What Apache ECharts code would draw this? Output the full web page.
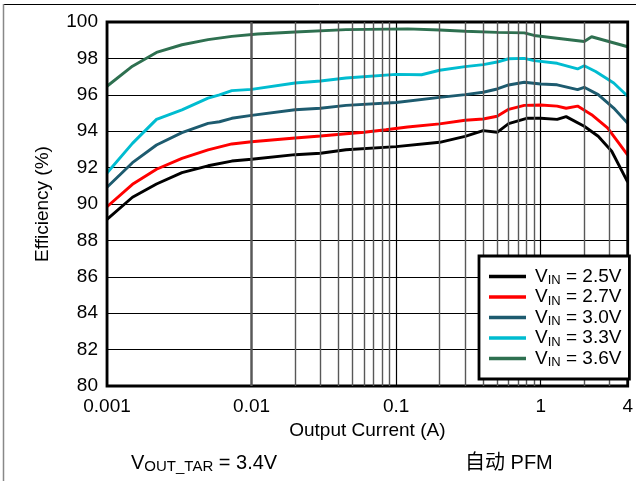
<!DOCTYPE html>
<html>
<head>
<meta charset="utf-8">
<script src="https://cdn.jsdelivr.net/npm/echarts@6/dist/echarts.min.js"></script>
<style>
  html, body { margin: 0; padding: 0; background: #fff; }
  #chart { width: 636px; height: 481px; }
</style>
</head>
<body>
<div id="chart"></div>
<script>
const FONT = "'Liberation Sans', Arial, 'Noto Sans CJK SC', sans-serif";

// Input voltages (V) shown in the legend
const inputVoltages = ['2.5', '2.7', '3.0', '3.3', '3.6'];

// Output current (A) / efficiency (%) per input voltage
const current25 = [0.001, 0.0015, 0.0022, 0.0033, 0.005, 0.0073, 0.01, 0.02, 0.03, 0.045, 0.1, 0.2, 0.3, 0.4, 0.5, 0.6, 0.8, 1.0, 1.3, 1.5, 2.0, 2.5, 3.1, 4];
const eff25 = [89.16, 90.37, 91.10, 91.72, 92.10, 92.36, 92.46, 92.71, 92.79, 92.98, 93.15, 93.39, 93.72, 94.03, 93.94, 94.42, 94.71, 94.71, 94.65, 94.80, 94.27, 93.72, 92.90, 91.20];

const current27 = [0.001, 0.0015, 0.0022, 0.0033, 0.005, 0.0073, 0.01, 0.02, 0.03, 0.045, 0.06, 0.085, 0.12, 0.2, 0.3, 0.4, 0.5, 0.6, 0.77, 1.0, 1.3, 1.5, 1.8, 2.25, 2.9, 4];
const eff27 = [89.85, 91.08, 91.91, 92.51, 92.97, 93.30, 93.42, 93.63, 93.74, 93.86, 93.94, 94.08, 94.23, 94.40, 94.60, 94.67, 94.82, 95.20, 95.42, 95.44, 95.38, 95.26, 95.38, 94.91, 94.18, 92.68];

const current30 = [0.001, 0.0015, 0.0022, 0.0033, 0.005, 0.006, 0.0073, 0.01, 0.02, 0.03, 0.045, 0.1, 0.2, 0.3, 0.4, 0.5, 0.6, 0.77, 1.0, 1.3, 1.8, 2.0, 2.5, 3.2, 4];
const eff30 = [90.92, 92.27, 93.24, 93.92, 94.43, 94.52, 94.71, 94.87, 95.18, 95.26, 95.42, 95.58, 95.86, 96.01, 96.14, 96.32, 96.54, 96.69, 96.59, 96.55, 96.28, 96.41, 96.01, 95.27, 94.43];

const current33 = [0.001, 0.0015, 0.0022, 0.0033, 0.005, 0.006, 0.0073, 0.01, 0.02, 0.03, 0.045, 0.1, 0.15, 0.2, 0.3, 0.4, 0.5, 0.6, 0.77, 0.9, 1.3, 1.8, 2.0, 2.4, 3.2, 4];
const eff33 = [91.70, 93.33, 94.65, 95.17, 95.82, 96.00, 96.23, 96.30, 96.65, 96.76, 96.92, 97.12, 97.10, 97.35, 97.55, 97.66, 97.80, 97.98, 98.00, 97.88, 97.73, 97.42, 97.60, 97.28, 96.65, 95.92];

const current36 = [0.001, 0.0015, 0.0022, 0.0033, 0.005, 0.0073, 0.011, 0.02, 0.045, 0.12, 0.2, 0.3, 0.5, 0.77, 0.9, 2.0, 2.25, 4];
const eff36 = [96.47, 97.57, 98.33, 98.75, 99.03, 99.21, 99.34, 99.45, 99.58, 99.62, 99.56, 99.49, 99.43, 99.40, 99.26, 98.93, 99.19, 98.64];

// Intermediate log-decade grid positions (A)
const minorGrid = [0.002, 0.003, 0.004, 0.005, 0.006, 0.007, 0.008, 0.009,
                   0.02, 0.03, 0.04, 0.05, 0.06, 0.07, 0.08, 0.09,
                   0.2, 0.3, 0.4, 0.5, 0.6, 0.7, 0.8, 0.9, 2, 3];

const lineColors = ['#000000', '#ff0000', '#1d5b6f', '#00bcd0', '#2e7050'];
const currents = [current25, current27, current30, current33, current36];
const effs = [eff25, eff27, eff30, eff33, eff36];

const zip = (xs, ys) => xs.map((x, i) => [x, ys[i]]);
const seriesName = v => 'VIN = ' + v + 'V';

const curveSeries = inputVoltages.map((v, i) => ({
  name: seriesName(v),
  type: 'line',
  data: zip(currents[i], effs[i]),
  showSymbol: false,
  symbol: 'none',
  z: 3,
  lineStyle: { color: lineColors[i], width: 2.9 },
  itemStyle: { color: lineColors[i] },
  emphasis: { disabled: true },
  animation: false
}));

// Minor vertical grid lines drawn through the x scale
const gridSeries = {
  name: 'grid',
  type: 'line',
  data: [],
  z: 1,
  silent: true,
  animation: false,
  markLine: {
    silent: true,
    symbol: ['none', 'none'],
    label: { show: false },
    animation: false,
    lineStyle: { color: '#585858', width: 1.4, type: 'solid' },
    emphasis: { disabled: true },
    data: minorGrid.map(x => ({ xAxis: x }))
  }
};

const chart = echarts.init(document.getElementById('chart'), null, { renderer: 'canvas' });

chart.setOption({
  animation: false,
  backgroundColor: '#fff',
  textStyle: { fontFamily: FONT },
  grid: {
    left: 107, right: 3.5, top: 22, bottom: 95,
    show: true, borderColor: '#000', borderWidth: 2.8, backgroundColor: 'transparent', z: 4
  },
  xAxis: {
    type: 'log',
    logBase: 10,
    min: 0.001,
    max: 4,
    name: 'Output Current (A)',
    nameLocation: 'middle',
    nameGap: 33,
    nameTextStyle: { fontSize: 19, color: '#000', fontFamily: FONT },
    axisLine: { show: false },
    axisTick: { show: false },
    axisLabel: {
      fontSize: 19, color: '#000', fontFamily: FONT, margin: 11,
      showMinLabel: true, showMaxLabel: true,
      formatter: v => String(+Number(v).toPrecision(3))
    },
    splitLine: { show: true, lineStyle: { color: '#000', width: 1.2 } }
  },
  yAxis: {
    type: 'value',
    min: 80,
    max: 100,
    interval: 2,
    name: 'Efficiency (%)',
    nameLocation: 'middle',
    nameGap: 55,
    nameTextStyle: { fontSize: 19, color: '#000', fontFamily: FONT },
    axisLine: { show: false },
    axisTick: { show: false },
    axisLabel: { fontSize: 19, color: '#000', fontFamily: FONT, margin: 9 },
    splitLine: { show: true, lineStyle: { color: '#000', width: 1.2 } }
  },
  legend: {
    orient: 'vertical',
    left: 479,
    top: 256,
    padding: [11, 8, 10, 10],
    itemGap: 0.5,
    itemWidth: 37,
    itemHeight: 3.5,
    icon: 'rect',
    backgroundColor: '#fff',
    borderColor: '#000',
    borderWidth: 2.8,
    z: 10,
    selectedMode: false,
    data: inputVoltages.map(seriesName),
    formatter: name => '{v|V}{s|IN}{t|' + name.slice(3) + '}',
    textStyle: {
      fontFamily: FONT,
      color: '#000',
      rich: {
        v: { fontSize: 19, lineHeight: 21, padding: [0, 0, 0, 4], fontFamily: FONT, color: '#000' },
        s: { fontSize: 13, lineHeight: 13, verticalAlign: 'bottom', fontFamily: FONT, color: '#000' },
        t: { fontSize: 19, lineHeight: 21, fontFamily: FONT, color: '#000' }
      }
    }
  },
  graphic: [
    { type: 'line', silent: true, shape: { x1: 3.5, y1: 4.5, x2: 636, y2: 4.5 }, style: { stroke: '#000', lineWidth: 1 } },
    { type: 'line', silent: true, shape: { x1: 3.5, y1: 4, x2: 3.5, y2: 481 }, style: { stroke: '#888', lineWidth: 1.5 } },
    {
      type: 'text', silent: true, x: 131, y: 463,
      style: {
        text: '{v|V}{s|OUT_TAR}{v| = 3.4V}',
        fill: '#000',
        verticalAlign: 'middle',
        fontFamily: FONT,
        fontSize: 20,
        rich: {
          v: { fontSize: 20, lineHeight: 22, fontFamily: FONT, fill: '#000' },
          s: { fontSize: 15, lineHeight: 15, verticalAlign: 'bottom', fontFamily: FONT, fill: '#000' }
        }
      }
    },
    {
      type: 'text', silent: true, x: 465, y: 463,
      style: { text: '自动 PFM', fill: '#000', verticalAlign: 'middle', fontFamily: FONT, fontSize: 20 }
    }
  ],
  series: [gridSeries].concat(curveSeries)
});
</script>
</body>
</html>
